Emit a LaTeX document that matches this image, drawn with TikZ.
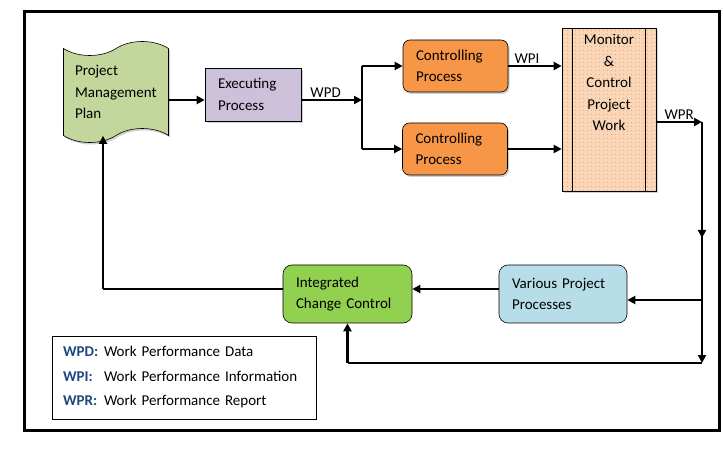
\documentclass[tikz,border=0pt]{standalone}
\usepackage{fontspec}
\setmainfont{Carlito}
\usetikzlibrary{arrows.meta, positioning, calc, shapes.symbols, patterns.meta, shadows}
\definecolor{pmpgreen}{HTML}{C3D69B}
\definecolor{execlilac}{HTML}{CCC0DA}
\definecolor{ctrlorange}{HTML}{F79646}
\definecolor{monpeach}{HTML}{FCD5B4}
\definecolor{varblue}{HTML}{B7DEE8}
\definecolor{iccgreen}{HTML}{92D050}
\definecolor{keyblue}{HTML}{1F497D}

\begin{document}
\begin{tikzpicture}[
  x=1pt, y=-1pt,
  font=\fontsize{15}{21.5}\selectfont,
  proc/.style={draw=black, line width=0.6pt, align=left,
              inner xsep=13pt, inner ysep=0pt},
  softshadow/.style={drop shadow={shadow xshift=1.5pt, shadow yshift=-2pt,
              opacity=0.3, fill=black!60}},
  arr/.style={-{Triangle[length=8pt, width=8pt]}, line width=2.6pt},
  bar/.style={line width=2.6pt},
  thinbar/.style={line width=1.3pt},
  tag/.style={above, inner sep=1pt}
]
  \useasboundingbox (0,0) rectangle (723,454);
  \draw[line width=3pt] (24,12) rectangle (719,430);

  % upper row
  \node[tape, draw=black, line width=0.6pt, fill=pmpgreen, softshadow,
        tape bend height=14pt, minimum width=105pt, minimum height=101pt,
        text width=82pt, inner xsep=11pt, align=left] (pmp) at (116,92)
        {Project\\Management\\Plan};
  \node[proc, fill=execlilac, softshadow, text width=70pt,
        minimum height=53pt] (exe) at (253,94.5) {Executing\\Process};
  \coordinate (jn) at (362,100);

  \node[proc, fill=ctrlorange, rounded corners=7pt, softshadow,
        text width=79pt, minimum height=52pt] (cp1) at (455.5,66)
        {Controlling\\Process};
  \node[proc, fill=ctrlorange, rounded corners=7pt, softshadow,
        text width=79pt, minimum height=52pt] (cp2) at (455,149)
        {Controlling\\Process};

  \node[draw=black, line width=0.6pt, fill=monpeach, softshadow,
        postaction={pattern={Dots[distance=4pt, radius=0.45pt]},
                    pattern color=black!45},
        minimum width=94pt, minimum height=163pt, inner sep=0pt] (mon)
        at (609,109.5)
        {\parbox[t][150pt][t]{72pt}{\centering
          Monitor\\\&\\Control\\Project\\Work}};
  \draw[line width=0.6pt] ($(mon.north west)+(11,0)$) -- ($(mon.south west)+(11,0)$);
  \draw[line width=0.6pt] ($(mon.north east)+(-11,0)$) -- ($(mon.south east)+(-11,0)$);

  % lower row
  \node[proc, fill=varblue, rounded corners=9pt, text width=102pt,
        minimum height=58pt] (vpp) at (563,294) {Various Project\\Processes};
  \node[proc, fill=iccgreen, rounded corners=9pt, text width=103pt,
        minimum height=58pt] (icc) at (347.5,294) {Integrated\\Change Control};

  % key
  \node[draw=black, line width=0.8pt, minimum width=264pt, minimum height=83pt,
        text width=242pt, inner xsep=11pt, align=left,
        font=\fontsize{15}{24.5}\selectfont] (key) at (184,377.5)
    {\makebox[41pt][l]{\textcolor{keyblue}{\textbf{WPD:}}}Work Performance Data\\
     \makebox[41pt][l]{\textcolor{keyblue}{\textbf{WPI:}}}Work Performance Information\\
     \makebox[41pt][l]{\textcolor{keyblue}{\textbf{WPR:}}}Work Performance Report};

  % connectors
  \draw[arr] (pmp.east |- jn) -- (exe.west |- jn);
  \draw[arr] (exe.east |- jn) -- (jn) node[tag, pos=0.4] {WPD};
  \draw[bar] (jn |- cp1) -- (jn |- cp2);
  \draw[arr] (jn |- cp1) -- (cp1.west);
  \draw[arr] (jn |- cp2) -- (cp2.west);
  \draw[arr] (cp1.east) -- (mon.west |- cp1) node[tag, pos=0.35] {WPI};
  \draw[arr] (cp2.east) -- (mon.west |- cp2);

  \coordinate (wpr) at (702,122);
  \coordinate (rmid) at (702,238);
  \coordinate (rtap) at (702,300);
  \coordinate (rbot) at (702,363);
  \draw[arr] (mon.east |- wpr) -- (wpr) node[tag, midway] {WPR};
  \draw[bar] (wpr) -- (rtap);
  \draw[arr] (wpr) -- (rmid);
  \draw[arr] (rtap) -- (rbot);
  \draw[arr] (rtap) -- (vpp.east |- rtap);
  \draw[thinbar] (rbot) -- (icc.south |- rbot);
  \draw[arr] (icc.south |- rbot) -- (icc.south);
  \draw[arr] ([yshift=5pt]vpp.west) -- ([yshift=5pt]icc.east);

  \coordinate (back) at (103,289);
  \draw[thinbar] ([yshift=5pt]icc.west) -- (back);
  \draw[arr] (back) -- (back |- pmp.south);
\end{tikzpicture}
\end{document}
